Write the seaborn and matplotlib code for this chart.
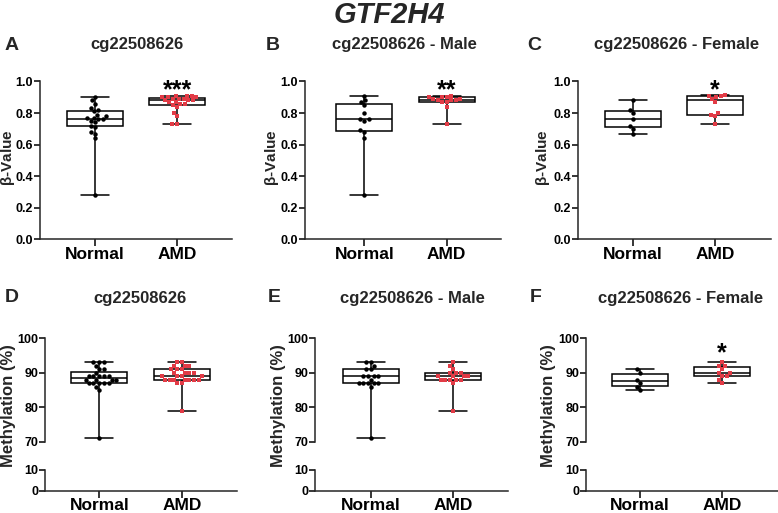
import numpy as np
import pandas as pd
import matplotlib
matplotlib.use("Agg")
import matplotlib.pyplot as plt
import seaborn as sns

# ---------------- data ----------------
groups = ["Normal", "AMD"]

# beta values (top row)
a_normal = [0.28, 0.64, 0.67, 0.68, 0.71, 0.72, 0.74, 0.75, 0.76, 0.76,
            0.77, 0.77, 0.78, 0.79, 0.81, 0.82, 0.83, 0.86, 0.88, 0.90]
a_amd = [0.73, 0.73, 0.78, 0.80, 0.84, 0.85, 0.86, 0.86, 0.87, 0.87, 0.88,
         0.88, 0.88, 0.89, 0.89, 0.89, 0.90, 0.90, 0.90, 0.91, 0.91, 0.91]
b_normal = [0.28, 0.64, 0.68, 0.69, 0.75, 0.76, 0.76, 0.80, 0.85, 0.87, 0.88, 0.91]
b_amd = [0.73, 0.84, 0.87, 0.87, 0.88, 0.88, 0.88, 0.89, 0.89, 0.90, 0.90, 0.90, 0.91]
c_normal = [0.67, 0.70, 0.72, 0.765, 0.80, 0.82, 0.88]
c_amd = [0.73, 0.78, 0.785, 0.80, 0.87, 0.89, 0.90, 0.91, 0.91, 0.915]

# methylation % (bottom row)
d_normal = [71, 85, 86, 87, 87, 87, 87, 87, 88, 88, 88, 88, 89, 89, 89, 89,
            89, 90, 91, 91, 92, 93, 93, 93]
d_amd = [79, 87, 87, 88, 88, 88, 88, 88, 88, 88, 89, 89, 89, 89, 90, 90, 90,
         90, 91, 91, 91, 92, 92, 92, 93, 93]
e_normal = [71, 86, 87, 87, 87, 87, 87, 88, 89, 89, 89, 89, 91, 91, 92, 93, 93]
e_amd = [79, 87, 88, 88, 88, 88, 88, 89, 89, 89, 89, 90, 90, 90, 91, 92, 93]
f_normal = [85, 86, 87, 88, 90, 91]
f_amd = [87, 88, 89, 89, 90, 90, 91, 92, 92, 93]

top_titles = ["cg22508626", "cg22508626 - Male", "cg22508626 - Female"]
bottom_titles = ["cg22508626", "cg22508626 - Male", "cg22508626 - Female"]
letters_top = ["A", "B", "C"]
letters_bottom = ["D", "E", "F"]
stars_top = ["***", "**", "*"]
stars_bottom = ["", "", "*"]
beta_ticks = [0.0, 0.2, 0.4, 0.6, 0.8, 1.0]
meth_ticks_hi = [70, 80, 90, 100]
meth_ticks_lo = [0, 10]

# ---------------- style ----------------
sns.set_theme(style="ticks")
plt.rcParams['font.family'] = ['Liberation Sans', 'DejaVu Sans']
plt.rcParams['font.weight'] = 'bold'
plt.rcParams['mathtext.fontset'] = 'custom'
plt.rcParams['mathtext.rm'] = 'Liberation Sans'
plt.rcParams['mathtext.it'] = 'Liberation Sans:italic'
plt.rcParams['mathtext.bf'] = 'Liberation Sans:bold'

W, H = 778, 513
fig = plt.figure(figsize=(W / 100, H / 100), dpi=100)
RED = "#e23b46"
LW = 1.1


def rect(left, top, right, bottom):
    return [left / W, 1 - bottom / H, (right - left) / W, (bottom - top) / H]


def draw_box(ax, normal, amd):
    df = pd.DataFrame({"group": ["Normal"] * len(normal) + ["AMD"] * len(amd),
                       "value": list(normal) + list(amd)})
    sns.boxplot(data=df, x="group", y="value", order=groups, whis=(0, 100),
                width=0.68, color="white", linecolor="black", linewidth=LW,
                fliersize=0, ax=ax)
    sns.swarmplot(data=df[df.group == "Normal"], x="group", y="value",
                  order=groups, color="black", marker="o", size=3.2, ax=ax)
    sns.swarmplot(data=df[df.group == "AMD"], x="group", y="value",
                  order=groups, color=RED, marker="s", size=3.2, ax=ax)
    ax.set_xlabel("")
    ax.set_ylabel("")


def style_axes(ax, show_bottom=True):
    ax.spines[['top', 'right']].set_visible(False)
    ax.spines['left'].set_linewidth(LW)
    ax.spines['bottom'].set_linewidth(LW)
    if not show_bottom:
        ax.spines['bottom'].set_visible(False)
    ax.tick_params(axis='y', width=LW, length=4, labelsize=9, pad=1, colors='black')
    ax.tick_params(axis='x', width=LW, length=5, labelsize=12.5, pad=0.5, colors='black')


# ---------------- top row ----------------
top_layout = [(40, 232, -0.67, 1.67), (305, 501, -0.72, 1.66), (578, 771, -0.67, 1.68)]
top_data = [(a_normal, a_amd), (b_normal, b_amd), (c_normal, c_amd)]
ylab_x_top = [8, 272, 543]
letter_x_top = [5, 266, 527]
title_x_top = [137, 404, 677]

for i in range(3):
    l, r, x0, x1 = top_layout[i]
    ax = fig.add_axes(rect(l, 81.4, r, 239.4))
    draw_box(ax, *top_data[i])
    style_axes(ax)
    ax.set_ylim(0, 1.0)
    ax.set_xlim(x0, x1)
    ax.set_yticks(beta_ticks)
    ax.set_yticklabels([f"{t:.1f}" for t in beta_ticks])
    ax.set_xticks([0, 1])
    ax.set_xticklabels(groups)
    ax.text(1, 0.898, stars_top[i], ha='center', va='baseline', fontsize=18,
            fontweight='bold', color='black')
    fig.text(ylab_x_top[i] / W, 1 - 158 / H, r"$\mathrm{\beta}$-Value", rotation=90,
             ha='center', va='center', fontsize=11, fontweight='bold')
    fig.text(letter_x_top[i] / W, 1 - 45 / H, letters_top[i], ha='left', va='center',
             fontsize=14, fontweight='bold')
    fig.text(title_x_top[i] / W, 1 - 45 / H, top_titles[i], ha='center', va='center',
             fontsize=12, fontweight='bold')

# ---------------- bottom row ----------------
bot_layout = [(45, 237, -0.66, 1.67), (315, 508, -0.68, 1.67), (586, 778, -0.65, 1.68)]
bot_data = [(d_normal, d_amd), (e_normal, e_amd), (f_normal, f_amd)]
ylab_x_bot = [9, 279, 549]
letter_x_bot = [5, 268, 530]
title_x_bot = [140, 412, 681]

for i in range(3):
    l, r, x0, x1 = bot_layout[i]
    axh = fig.add_axes(rect(l, 338.3, r, 441.7))
    draw_box(axh, *bot_data[i])
    style_axes(axh, show_bottom=False)
    axh.set_ylim(70, 100)
    axh.set_xlim(x0, x1)
    axh.set_yticks(meth_ticks_hi)
    axh.set_xticks([])
    if stars_bottom[i]:
        axh.text(1, 93.5, stars_bottom[i], ha='center', va='baseline', fontsize=18,
                 fontweight='bold', color='black')

    axl = fig.add_axes(rect(l, 470, r, 490.7))
    style_axes(axl)
    axl.set_facecolor('none')
    axl.set_ylim(0, 10)
    axl.set_xlim(x0, x1)
    axl.set_yticks(meth_ticks_lo)
    axl.set_xticks([0, 1])
    axl.set_xticklabels(groups)

    fig.text(ylab_x_bot[i] / W, 1 - 406 / H, "Methylation (%)", rotation=90,
             ha='center', va='center', fontsize=12, fontweight='bold')
    fig.text(letter_x_bot[i] / W, 1 - 298 / H, letters_bottom[i], ha='left', va='center',
             fontsize=14, fontweight='bold')
    fig.text(title_x_bot[i] / W, 1 - 298 / H, bottom_titles[i], ha='center', va='center',
             fontsize=12, fontweight='bold')

fig.text(0.5, 1 - 15 / H, "GTF2H4", ha='center', va='center', fontsize=21,
         fontweight='bold', fontstyle='italic')

fig.savefig("out.png", dpi=100)
